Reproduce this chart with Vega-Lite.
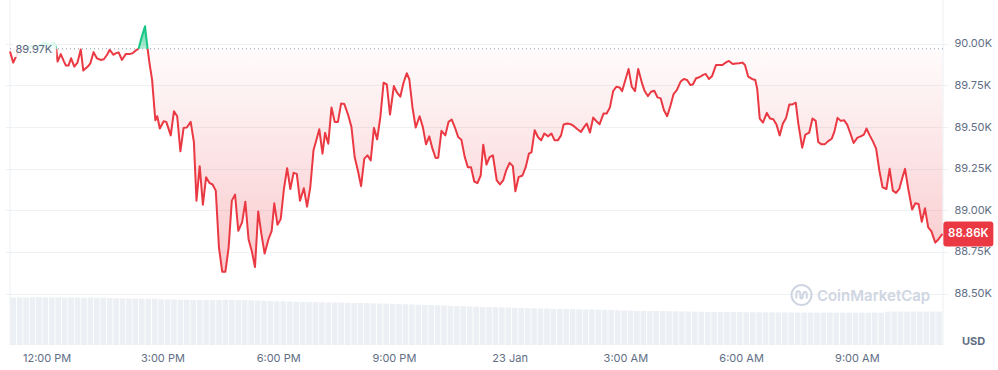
{
"$schema": "https://vega.github.io/schema/vega-lite/v6.json",
"width": 943, "height": 345,
"autosize": {"type": "none"},
"padding": {"left": 5, "top": 0, "right": 50, "bottom": 25},
"background": "white",
"config": {"view": {"stroke": null}, "font": "Inter"},
"datasets": {
"price": [
{"t":3,"p":89954,"s":1,"d":"down"},{"t":8,"p":89887,"s":1,"d":"down"},{"t":16,"p":89954,"s":1,"d":"down"},{"t":26,"p":89970,"s":1,"d":"down"},
{"t":26,"p":89970,"s":2,"d":"up"},{"t":36,"p":89988,"s":2,"d":"up"},{"t":47,"p":89984,"s":2,"d":"up"},{"t":57,"p":90008,"s":2,"d":"up"},{"t":65,"p":89992,"s":2,"d":"up"},{"t":72,"p":90008,"s":2,"d":"up"},{"t":75,"p":89970,"s":2,"d":"up"},
{"t":75,"p":89970,"s":3,"d":"down"},{"t":77,"p":89893,"s":3,"d":"down"},{"t":82,"p":89938,"s":3,"d":"down"},{"t":87,"p":89893,"s":3,"d":"down"},{"t":90,"p":89869,"s":3,"d":"down"},{"t":94,"p":89869,"s":3,"d":"down"},{"t":98,"p":89913,"s":3,"d":"down"},{"t":103,"p":89863,"s":3,"d":"down"},{"t":108,"p":89887,"s":3,"d":"down"},{"t":113,"p":89966,"s":3,"d":"down"},{"t":117,"p":89839,"s":3,"d":"down"},{"t":124,"p":89863,"s":3,"d":"down"},{"t":128,"p":89883,"s":3,"d":"down"},{"t":133,"p":89950,"s":3,"d":"down"},{"t":138,"p":89913,"s":3,"d":"down"},{"t":144,"p":89903,"s":3,"d":"down"},{"t":149,"p":89907,"s":3,"d":"down"},{"t":154,"p":89934,"s":3,"d":"down"},{"t":158,"p":89964,"s":3,"d":"down"},{"t":164,"p":89934,"s":3,"d":"down"},{"t":168,"p":89944,"s":3,"d":"down"},{"t":172,"p":89948,"s":3,"d":"down"},{"t":177,"p":89903,"s":3,"d":"down"},{"t":183,"p":89938,"s":3,"d":"down"},{"t":189,"p":89938,"s":3,"d":"down"},{"t":194,"p":89944,"s":3,"d":"down"},{"t":200,"p":89964,"s":3,"d":"down"},{"t":203,"p":89970,"s":3,"d":"down"},
{"t":203,"p":89970,"s":4,"d":"up"},{"t":208,"p":90044,"s":4,"d":"up"},{"t":213,"p":90105,"s":4,"d":"up"},{"t":217,"p":89970,"s":4,"d":"up"},
{"t":217,"p":89970,"s":5,"d":"down"},{"t":220,"p":89883,"s":5,"d":"down"},{"t":224,"p":89783,"s":5,"d":"down"},{"t":229,"p":89541,"s":5,"d":"down"},{"t":232,"p":89565,"s":5,"d":"down"},{"t":236,"p":89491,"s":5,"d":"down"},{"t":242,"p":89535,"s":5,"d":"down"},{"t":246,"p":89531,"s":5,"d":"down"},{"t":253,"p":89450,"s":5,"d":"down"},{"t":258,"p":89595,"s":5,"d":"down"},{"t":263,"p":89565,"s":5,"d":"down"},{"t":268,"p":89354,"s":5,"d":"down"},{"t":273,"p":89495,"s":5,"d":"down"},{"t":278,"p":89497,"s":5,"d":"down"},{"t":284,"p":89531,"s":5,"d":"down"},{"t":289,"p":89410,"s":5,"d":"down"},{"t":293,"p":89058,"s":5,"d":"down"},{"t":298,"p":89265,"s":5,"d":"down"},{"t":303,"p":89034,"s":5,"d":"down"},{"t":308,"p":89199,"s":5,"d":"down"},{"t":313,"p":89165,"s":5,"d":"down"},{"t":318,"p":89155,"s":5,"d":"down"},{"t":323,"p":89118,"s":5,"d":"down"},{"t":328,"p":88776,"s":5,"d":"down"},{"t":333,"p":88631,"s":5,"d":"down"},{"t":338,"p":88631,"s":5,"d":"down"},{"t":343,"p":88776,"s":5,"d":"down"},{"t":348,"p":89058,"s":5,"d":"down"},{"t":353,"p":89094,"s":5,"d":"down"},{"t":358,"p":88877,"s":5,"d":"down"},{"t":364,"p":88927,"s":5,"d":"down"},{"t":369,"p":89052,"s":5,"d":"down"},{"t":374,"p":88826,"s":5,"d":"down"},{"t":379,"p":88756,"s":5,"d":"down"},{"t":384,"p":88659,"s":5,"d":"down"},{"t":389,"p":88993,"s":5,"d":"down"},{"t":394,"p":88857,"s":5,"d":"down"},{"t":399,"p":88740,"s":5,"d":"down"},{"t":405,"p":88826,"s":5,"d":"down"},{"t":410,"p":88877,"s":5,"d":"down"},{"t":414,"p":89042,"s":5,"d":"down"},{"t":419,"p":88913,"s":5,"d":"down"},{"t":424,"p":88947,"s":5,"d":"down"},{"t":429,"p":89128,"s":5,"d":"down"},{"t":434,"p":89253,"s":5,"d":"down"},{"t":439,"p":89128,"s":5,"d":"down"},{"t":444,"p":89225,"s":5,"d":"down"},{"t":449,"p":89219,"s":5,"d":"down"},{"t":454,"p":89058,"s":5,"d":"down"},{"t":460,"p":89132,"s":5,"d":"down"},{"t":465,"p":89022,"s":5,"d":"down"},{"t":470,"p":89138,"s":5,"d":"down"},{"t":475,"p":89360,"s":5,"d":"down"},{"t":480,"p":89430,"s":5,"d":"down"},{"t":484,"p":89487,"s":5,"d":"down"},{"t":489,"p":89340,"s":5,"d":"down"},{"t":493,"p":89465,"s":5,"d":"down"},{"t":498,"p":89400,"s":5,"d":"down"},{"t":503,"p":89618,"s":5,"d":"down"},{"t":508,"p":89531,"s":5,"d":"down"},{"t":513,"p":89531,"s":5,"d":"down"},{"t":518,"p":89642,"s":5,"d":"down"},{"t":523,"p":89638,"s":5,"d":"down"},{"t":529,"p":89571,"s":5,"d":"down"},{"t":534,"p":89501,"s":5,"d":"down"},{"t":539,"p":89320,"s":5,"d":"down"},{"t":544,"p":89239,"s":5,"d":"down"},{"t":549,"p":89145,"s":5,"d":"down"},{"t":554,"p":89310,"s":5,"d":"down"},{"t":559,"p":89330,"s":5,"d":"down"},{"t":564,"p":89300,"s":5,"d":"down"},{"t":569,"p":89495,"s":5,"d":"down"},{"t":574,"p":89426,"s":5,"d":"down"},{"t":579,"p":89561,"s":5,"d":"down"},{"t":584,"p":89766,"s":5,"d":"down"},{"t":589,"p":89756,"s":5,"d":"down"},{"t":594,"p":89575,"s":5,"d":"down"},{"t":600,"p":89746,"s":5,"d":"down"},{"t":605,"p":89706,"s":5,"d":"down"},{"t":610,"p":89682,"s":5,"d":"down"},{"t":615,"p":89766,"s":5,"d":"down"},{"t":620,"p":89823,"s":5,"d":"down"},{"t":624,"p":89787,"s":5,"d":"down"},{"t":629,"p":89616,"s":5,"d":"down"},{"t":634,"p":89497,"s":5,"d":"down"},{"t":640,"p":89565,"s":5,"d":"down"},{"t":645,"p":89501,"s":5,"d":"down"},{"t":650,"p":89396,"s":5,"d":"down"},{"t":655,"p":89444,"s":5,"d":"down"},{"t":660,"p":89370,"s":5,"d":"down"},{"t":665,"p":89314,"s":5,"d":"down"},{"t":669,"p":89316,"s":5,"d":"down"},{"t":674,"p":89477,"s":5,"d":"down"},{"t":680,"p":89450,"s":5,"d":"down"},{"t":685,"p":89531,"s":5,"d":"down"},{"t":690,"p":89545,"s":5,"d":"down"},{"t":695,"p":89497,"s":5,"d":"down"},{"t":700,"p":89440,"s":5,"d":"down"},{"t":705,"p":89424,"s":5,"d":"down"},{"t":710,"p":89324,"s":5,"d":"down"},{"t":715,"p":89259,"s":5,"d":"down"},{"t":720,"p":89259,"s":5,"d":"down"},{"t":725,"p":89173,"s":5,"d":"down"},{"t":730,"p":89163,"s":5,"d":"down"},{"t":735,"p":89209,"s":5,"d":"down"},{"t":739,"p":89394,"s":5,"d":"down"},{"t":744,"p":89275,"s":5,"d":"down"},{"t":749,"p":89320,"s":5,"d":"down"},{"t":754,"p":89330,"s":5,"d":"down"},{"t":760,"p":89179,"s":5,"d":"down"},{"t":765,"p":89155,"s":5,"d":"down"},{"t":770,"p":89179,"s":5,"d":"down"},{"t":775,"p":89243,"s":5,"d":"down"},{"t":780,"p":89285,"s":5,"d":"down"},{"t":785,"p":89265,"s":5,"d":"down"},{"t":789,"p":89114,"s":5,"d":"down"},{"t":794,"p":89199,"s":5,"d":"down"},{"t":800,"p":89209,"s":5,"d":"down"},{"t":805,"p":89259,"s":5,"d":"down"},{"t":810,"p":89340,"s":5,"d":"down"},{"t":814,"p":89348,"s":5,"d":"down"},{"t":819,"p":89481,"s":5,"d":"down"},{"t":824,"p":89440,"s":5,"d":"down"},{"t":829,"p":89420,"s":5,"d":"down"},{"t":834,"p":89461,"s":5,"d":"down"},{"t":840,"p":89444,"s":5,"d":"down"},{"t":845,"p":89461,"s":5,"d":"down"},{"t":850,"p":89420,"s":5,"d":"down"},{"t":855,"p":89420,"s":5,"d":"down"},{"t":860,"p":89450,"s":5,"d":"down"},{"t":864,"p":89515,"s":5,"d":"down"},{"t":870,"p":89521,"s":5,"d":"down"},{"t":875,"p":89517,"s":5,"d":"down"},{"t":880,"p":89505,"s":5,"d":"down"},{"t":886,"p":89485,"s":5,"d":"down"},{"t":891,"p":89471,"s":5,"d":"down"},{"t":896,"p":89501,"s":5,"d":"down"},{"t":900,"p":89521,"s":5,"d":"down"},{"t":905,"p":89467,"s":5,"d":"down"},{"t":910,"p":89557,"s":5,"d":"down"},{"t":915,"p":89535,"s":5,"d":"down"},{"t":920,"p":89517,"s":5,"d":"down"},{"t":926,"p":89581,"s":5,"d":"down"},{"t":931,"p":89581,"s":5,"d":"down"},{"t":936,"p":89618,"s":5,"d":"down"},{"t":941,"p":89716,"s":5,"d":"down"},{"t":946,"p":89742,"s":5,"d":"down"},{"t":951,"p":89738,"s":5,"d":"down"},{"t":955,"p":89716,"s":5,"d":"down"},{"t":960,"p":89783,"s":5,"d":"down"},{"t":965,"p":89849,"s":5,"d":"down"},{"t":970,"p":89742,"s":5,"d":"down"},{"t":975,"p":89716,"s":5,"d":"down"},{"t":980,"p":89849,"s":5,"d":"down"},{"t":986,"p":89762,"s":5,"d":"down"},{"t":990,"p":89716,"s":5,"d":"down"},{"t":995,"p":89686,"s":5,"d":"down"},{"t":1000,"p":89712,"s":5,"d":"down"},{"t":1005,"p":89718,"s":5,"d":"down"},{"t":1010,"p":89678,"s":5,"d":"down"},{"t":1015,"p":89672,"s":5,"d":"down"},{"t":1020,"p":89601,"s":5,"d":"down"},{"t":1025,"p":89565,"s":5,"d":"down"},{"t":1030,"p":89626,"s":5,"d":"down"},{"t":1035,"p":89698,"s":5,"d":"down"},{"t":1040,"p":89722,"s":5,"d":"down"},{"t":1046,"p":89773,"s":5,"d":"down"},{"t":1051,"p":89789,"s":5,"d":"down"},{"t":1056,"p":89783,"s":5,"d":"down"},{"t":1061,"p":89752,"s":5,"d":"down"},{"t":1065,"p":89756,"s":5,"d":"down"},{"t":1070,"p":89793,"s":5,"d":"down"},{"t":1075,"p":89799,"s":5,"d":"down"},{"t":1081,"p":89813,"s":5,"d":"down"},{"t":1085,"p":89819,"s":5,"d":"down"},{"t":1090,"p":89789,"s":5,"d":"down"},{"t":1095,"p":89807,"s":5,"d":"down"},{"t":1101,"p":89873,"s":5,"d":"down"},{"t":1106,"p":89873,"s":5,"d":"down"},{"t":1111,"p":89873,"s":5,"d":"down"},{"t":1116,"p":89887,"s":5,"d":"down"},{"t":1121,"p":89897,"s":5,"d":"down"},{"t":1127,"p":89879,"s":5,"d":"down"},{"t":1132,"p":89881,"s":5,"d":"down"},{"t":1137,"p":89883,"s":5,"d":"down"},{"t":1142,"p":89887,"s":5,"d":"down"},{"t":1146,"p":89873,"s":5,"d":"down"},{"t":1151,"p":89803,"s":5,"d":"down"},{"t":1157,"p":89789,"s":5,"d":"down"},{"t":1162,"p":89783,"s":5,"d":"down"},{"t":1165,"p":89732,"s":5,"d":"down"},{"t":1169,"p":89551,"s":5,"d":"down"},{"t":1174,"p":89527,"s":5,"d":"down"},{"t":1180,"p":89585,"s":5,"d":"down"},{"t":1185,"p":89551,"s":5,"d":"down"},{"t":1190,"p":89547,"s":5,"d":"down"},{"t":1195,"p":89515,"s":5,"d":"down"},{"t":1200,"p":89450,"s":5,"d":"down"},{"t":1205,"p":89521,"s":5,"d":"down"},{"t":1210,"p":89555,"s":5,"d":"down"},{"t":1215,"p":89636,"s":5,"d":"down"},{"t":1220,"p":89636,"s":5,"d":"down"},{"t":1225,"p":89646,"s":5,"d":"down"},{"t":1229,"p":89521,"s":5,"d":"down"},{"t":1235,"p":89376,"s":5,"d":"down"},{"t":1240,"p":89455,"s":5,"d":"down"},{"t":1246,"p":89467,"s":5,"d":"down"},{"t":1251,"p":89551,"s":5,"d":"down"},{"t":1256,"p":89537,"s":5,"d":"down"},{"t":1260,"p":89410,"s":5,"d":"down"},{"t":1265,"p":89396,"s":5,"d":"down"},{"t":1270,"p":89396,"s":5,"d":"down"},{"t":1275,"p":89414,"s":5,"d":"down"},{"t":1281,"p":89430,"s":5,"d":"down"},{"t":1285,"p":89471,"s":5,"d":"down"},{"t":1290,"p":89555,"s":5,"d":"down"},{"t":1295,"p":89537,"s":5,"d":"down"},{"t":1300,"p":89541,"s":5,"d":"down"},{"t":1305,"p":89515,"s":5,"d":"down"},{"t":1310,"p":89461,"s":5,"d":"down"},{"t":1315,"p":89404,"s":5,"d":"down"},{"t":1321,"p":89436,"s":5,"d":"down"},{"t":1326,"p":89444,"s":5,"d":"down"},{"t":1331,"p":89455,"s":5,"d":"down"},{"t":1335,"p":89491,"s":5,"d":"down"},{"t":1340,"p":89450,"s":5,"d":"down"},{"t":1345,"p":89414,"s":5,"d":"down"},{"t":1350,"p":89370,"s":5,"d":"down"},{"t":1355,"p":89239,"s":5,"d":"down"},{"t":1360,"p":89138,"s":5,"d":"down"},{"t":1366,"p":89128,"s":5,"d":"down"},{"t":1371,"p":89249,"s":5,"d":"down"},{"t":1376,"p":89118,"s":5,"d":"down"},{"t":1381,"p":89104,"s":5,"d":"down"},{"t":1386,"p":89128,"s":5,"d":"down"},{"t":1391,"p":89199,"s":5,"d":"down"},{"t":1395,"p":89249,"s":5,"d":"down"},{"t":1400,"p":89128,"s":5,"d":"down"},{"t":1406,"p":89004,"s":5,"d":"down"},{"t":1411,"p":89042,"s":5,"d":"down"},{"t":1416,"p":89038,"s":5,"d":"down"},{"t":1421,"p":88931,"s":5,"d":"down"},{"t":1426,"p":89012,"s":5,"d":"down"},{"t":1431,"p":88897,"s":5,"d":"down"},{"t":1436,"p":88873,"s":5,"d":"down"},{"t":1442,"p":88806,"s":5,"d":"down"},{"t":1447,"p":88826,"s":5,"d":"down"},{"t":1453,"p":88858,"s":5,"d":"down"}
],
"vol": [
{"t":8,"v":41.2},{"t":18,"v":41.4},{"t":28,"v":41.3},{"t":38,"v":41.5},{"t":48,"v":41.6},{"t":58,"v":41.4},{"t":68,"v":41.3},{"t":78,"v":41.5},{"t":88,"v":41.2},{"t":98,"v":41.4},{"t":108,"v":41.3},{"t":118,"v":41.1},{"t":128,"v":41.2},{"t":138,"v":41.0},{"t":148,"v":41.1},
{"t":158,"v":40.8},{"t":168,"v":40.6},{"t":178,"v":40.5},{"t":188,"v":40.4},{"t":198,"v":40.5},{"t":208,"v":40.3},{"t":218,"v":40.2},{"t":228,"v":40.3},
{"t":238,"v":39.8},{"t":248,"v":39.6},{"t":258,"v":39.5},{"t":268,"v":39.3},{"t":278,"v":39.4},{"t":288,"v":39.2},{"t":298,"v":39.3},{"t":308,"v":39.1},{"t":318,"v":39.0},{"t":328,"v":39.2},{"t":338,"v":39.4},{"t":348,"v":39.3},{"t":358,"v":39.1},{"t":368,"v":39.0},{"t":378,"v":38.9},
{"t":388,"v":38.6},{"t":398,"v":38.4},{"t":408,"v":38.2},{"t":418,"v":38.0},{"t":428,"v":37.9},{"t":438,"v":37.7},{"t":448,"v":37.6},{"t":458,"v":37.5},{"t":468,"v":37.4},{"t":478,"v":37.3},{"t":488,"v":37.2},{"t":498,"v":37.0},{"t":508,"v":36.9},{"t":518,"v":36.8},{"t":528,"v":36.7},
{"t":538,"v":36.6},{"t":548,"v":36.5},{"t":558,"v":36.4},{"t":568,"v":36.3},{"t":578,"v":36.1},{"t":588,"v":36.0},{"t":598,"v":35.8},{"t":608,"v":35.6},
{"t":618,"v":35.4},{"t":628,"v":35.2},{"t":638,"v":35.0},{"t":648,"v":34.8},{"t":658,"v":34.6},{"t":668,"v":34.5},{"t":678,"v":34.3},{"t":688,"v":34.1},
{"t":698,"v":33.9},{"t":708,"v":33.7},{"t":718,"v":33.5},{"t":728,"v":33.3},{"t":738,"v":33.1},{"t":748,"v":33.0},{"t":758,"v":32.9},{"t":768,"v":32.8},
{"t":778,"v":32.6},{"t":788,"v":32.4},{"t":798,"v":32.2},{"t":808,"v":32.0},{"t":818,"v":31.9},{"t":828,"v":31.8},{"t":838,"v":31.6},{"t":848,"v":31.5},{"t":858,"v":31.4},{"t":868,"v":31.3},{"t":878,"v":31.2},{"t":888,"v":31.1},{"t":898,"v":31.0},{"t":908,"v":30.9},{"t":918,"v":30.8},
{"t":928,"v":30.6},{"t":938,"v":30.4},{"t":948,"v":30.2},{"t":958,"v":30.0},{"t":968,"v":29.9},{"t":978,"v":29.8},{"t":988,"v":29.7},{"t":998,"v":29.6},{"t":1008,"v":29.5},{"t":1018,"v":29.5},{"t":1028,"v":29.4},{"t":1038,"v":29.3},{"t":1048,"v":29.2},{"t":1058,"v":29.1},{"t":1068,"v":29.0},
{"t":1078,"v":28.9},{"t":1088,"v":28.8},{"t":1098,"v":28.8},{"t":1108,"v":28.7},{"t":1118,"v":28.7},{"t":1128,"v":28.6},{"t":1138,"v":28.6},{"t":1148,"v":28.5},{"t":1158,"v":28.5},{"t":1168,"v":28.4},{"t":1178,"v":28.4},{"t":1188,"v":28.4},{"t":1198,"v":28.3},{"t":1208,"v":28.3},{"t":1218,"v":28.3},{"t":1228,"v":28.2},
{"t":1238,"v":28.2},{"t":1248,"v":28.2},{"t":1258,"v":28.1},{"t":1268,"v":28.1},{"t":1278,"v":28.2},{"t":1288,"v":28.1},{"t":1298,"v":28.0},{"t":1308,"v":28.1},{"t":1318,"v":28.1},{"t":1328,"v":28.0},{"t":1338,"v":28.1},{"t":1348,"v":28.2},{"t":1358,"v":28.1},
{"t":1368,"v":29.0},{"t":1378,"v":29.1},{"t":1388,"v":29.1},{"t":1398,"v":29.0},{"t":1408,"v":29.1},{"t":1418,"v":29.1},{"t":1428,"v":29.0},{"t":1438,"v":29.1},{"t":1448,"v":29.1}
],
"last": [{"t":1453,"p":88858,"label":"88.86K"}],
"edges": [{"t":3},{"t":1454}],
"base": [{"t":3,"t2":1454,"p":89970,"label":"89.97K","tl":40,"ta":9,"tb":75,"pa":90020,"pb":89920}],
"brand": [{"t":1346,"p":88485,"label":"CoinMarketCap","tl":1234,"pl":88491}]
},
"encoding": {
  "x": {"field": "t", "type": "quantitative",
    "scale": {"domain": [3, 1454], "nice": false, "zero": false},
    "axis": {"values": [60, 240, 420, 600, 780, 960, 1140, 1320],
      "labelExpr": "['12:00 PM','3:00 PM','6:00 PM','9:00 PM','23 Jan','3:00 AM','6:00 AM','9:00 AM'][round((datum.value-60)/180)]",
      "grid": false, "ticks": false, "domain": false, "title": null,
      "labelPadding": 7, "labelFontSize": 11, "labelColor": "#616e85", "labelFont": "Inter"}}
},
"layer": [
  {"data": {"name": "vol"},
   "mark": {"type": "bar", "width": 5.6, "color": "#eceff3"},
   "encoding": {"y": {"field": "v", "type": "quantitative", "scale": {"domain": [0, 300], "nice": false}, "axis": null}}},
  {"data": {"name": "edges"},
   "mark": {"type": "rule", "color": "#eceff2", "strokeWidth": 1},
   "encoding": {}},
  {"data": {"name": "price"},
   "encoding": {"y": {"field": "p", "type": "quantitative",
      "scale": {"domain": [88191, 90263], "nice": false, "zero": false},
      "axis": {"orient": "right", "values": [88500, 88750, 89000, 89250, 89500, 89750, 90000],
        "labelExpr": "format(datum.value/1000, '.2f') + 'K'",
        "grid": true, "gridColor": "#eff2f5", "ticks": false, "domain": false,
        "labelPadding": 6, "labelFontSize": 11, "labelColor": "#616e85", "labelFont": "Inter",
        "title": "USD", "titleAngle": 0, "titleX": 25, "titleY": 341, "titleAlign": "center", "titleBaseline": "middle",
        "titleFontSize": 11, "titleFontWeight": "bold", "titleColor": "#616e85", "titleFont": "Inter"}}},
   "layer": [
     {"mark": {"type": "area", "fill": {"gradient": "linear", "x1": 0, "y1": 0, "x2": 0, "y2": 1,
        "stops": [{"offset": 0, "color": "rgba(234,57,67,0)"}, {"offset": 0.1, "color": "rgba(234,57,67,0.02)"}, {"offset": 1, "color": "rgba(234,57,67,0.27)"}]}},
      "encoding": {"y2": {"datum": 89970}}},
     {"transform": [{"filter": "datum.d == 'up'"}],
      "mark": {"type": "area", "fill": {"gradient": "linear", "x1": 0, "y1": 0, "x2": 0, "y2": 1,
        "stops": [{"offset": 0, "color": "rgba(22,199,132,0.75)"}, {"offset": 1, "color": "rgba(22,199,132,0.3)"}]}},
      "encoding": {"y2": {"datum": 89970}, "detail": {"field": "s"}}},
     {"data": {"name": "base"},
      "mark": {"type": "rule", "color": "#8f98a8", "strokeDash": [1, 3], "strokeWidth": 1},
      "encoding": {"x2": {"field": "t2"}}},
     {"mark": {"type": "line", "strokeWidth": 2, "strokeJoin": "round"},
      "encoding": {"color": {"field": "d", "type": "nominal", "scale": {"domain": ["down", "up"], "range": ["#ea3943", "#16c784"]}, "legend": null},
        "detail": {"field": "s"}}},
     {"data": {"name": "base"},
      "mark": {"type": "rect", "fill": "white", "opacity": 0.85},
      "encoding": {"x": {"field": "ta", "type": "quantitative"}, "x2": {"field": "tb"}, "y": {"field": "pa", "type": "quantitative"}, "y2": {"field": "pb"}}},
     {"data": {"name": "base"},
      "mark": {"type": "text", "fontSize": 11, "color": "#58667e", "align": "center", "baseline": "middle", "dy": 1.5},
      "encoding": {"x": {"field": "tl", "type": "quantitative"}, "text": {"field": "label"}}},
     {"data": {"name": "brand"},
      "mark": {"type": "text", "fontSize": 15, "fontWeight": 600, "color": "#cfd6e2", "align": "center", "baseline": "middle"},
      "encoding": {"text": {"field": "label"}}},
     {"data": {"name": "brand"},
      "mark": {"type": "point", "shape": "circle", "size": 400, "filled": false, "stroke": "#cfd6e2", "strokeWidth": 2, "opacity": 1},
      "encoding": {"x": {"field": "tl", "type": "quantitative"}, "y": {"field": "pl", "type": "quantitative"}}},
     {"data": {"name": "brand"},
      "mark": {"type": "point", "shape": "M-0.52,0.35 L-0.52,-0.05 C-0.52,-0.5 -0.12,-0.5 -0.12,-0.05 L-0.12,0.2 C-0.1,0.42 0.08,0.4 0.1,0.15 L0.16,-0.12 C0.26,-0.45 0.56,-0.38 0.52,0.05 L0.52,0.35", "size": 400, "filled": false, "stroke": "#cfd6e2", "strokeWidth": 2, "opacity": 1},
      "encoding": {"x": {"field": "tl", "type": "quantitative"}, "y": {"field": "pl", "type": "quantitative"}}},
     {"data": {"name": "last"},
      "mark": {"type": "point", "shape": "M0.16,-0.5 H1.92 Q2.04,-0.5 2.04,-0.38 V0.38 Q2.04,0.5 1.92,0.5 H0.16 Q0.04,0.5 0.04,0.38 V-0.38 Q0.04,-0.5 0.16,-0.5 Z", "size": 2500, "filled": true, "color": "#ea3943", "opacity": 1}},
     {"data": {"name": "last"},
      "mark": {"type": "text", "fontSize": 11.5, "fontWeight": 600, "color": "white", "align": "center", "baseline": "middle", "dx": 26},
      "encoding": {"text": {"field": "label"}}}
   ]}
],
"resolve": {"scale": {"y": "independent"}, "axis": {"y": "independent"}}
}
